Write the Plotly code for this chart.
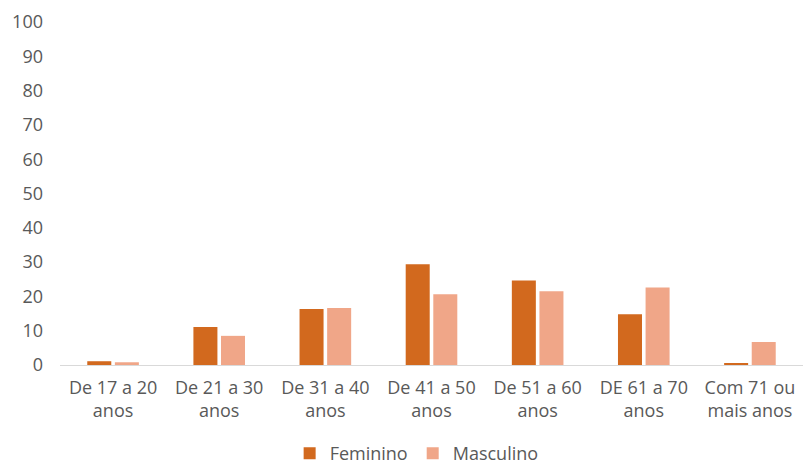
import plotly.graph_objects as go

categories = ["De 17 a 20<br>anos", "De 21 a 30<br>anos", "De 31 a 40<br>anos", "De 41 a 50<br>anos",
              "De 51 a 60<br>anos", "DE 61 a 70<br>anos", "Com 71 ou<br>mais anos"]
feminino = [1.1, 11.1, 16.3, 29.4, 24.6, 14.8, 0.5]
masculino = [0.8, 8.5, 16.6, 20.6, 21.5, 22.6, 6.7]
y_ticks = [0, 10, 20, 30, 40, 50, 60, 70, 80, 90, 100]

fig = go.Figure()
fig.add_trace(go.Bar(name="Feminino", x=categories, y=feminino, marker_color="#D2691E", marker_line_width=0))
fig.add_trace(go.Bar(name="Masculino", x=categories, y=masculino, marker_color="#F0A688", marker_line_width=0))

fig.update_layout(
    width=803, height=472,
    margin=dict(l=60, r=0, t=22, b=107, pad=0),
    barmode="group", bargap=0.48, bargroupgap=0.13,
    plot_bgcolor="white", paper_bgcolor="white",
    font=dict(family="Open Sans, Noto Sans, sans-serif", size=18, color="#595959"),
    showlegend=True,
    legend=dict(orientation="h", x=0.48, xanchor="center", y=-0.258, yanchor="middle",
                font=dict(size=18, color="#595959"), itemwidth=30),
    xaxis=dict(showgrid=False, showline=True, linecolor="#D9D9D9", linewidth=1,
               ticks="", ticklabelstandoff=6, automargin=False,
               tickfont=dict(size=18, color="#595959")),
    yaxis=dict(range=[0, 100], tickvals=y_ticks, showgrid=False, zeroline=False,
               showline=False, ticks="", ticklabelstandoff=16, automargin=False,
               tickfont=dict(size=18, color="#595959")),
)
fig.write_html("out.html", config={"displayModeBar": False},
               post_script="document.body.style.margin='0';")
